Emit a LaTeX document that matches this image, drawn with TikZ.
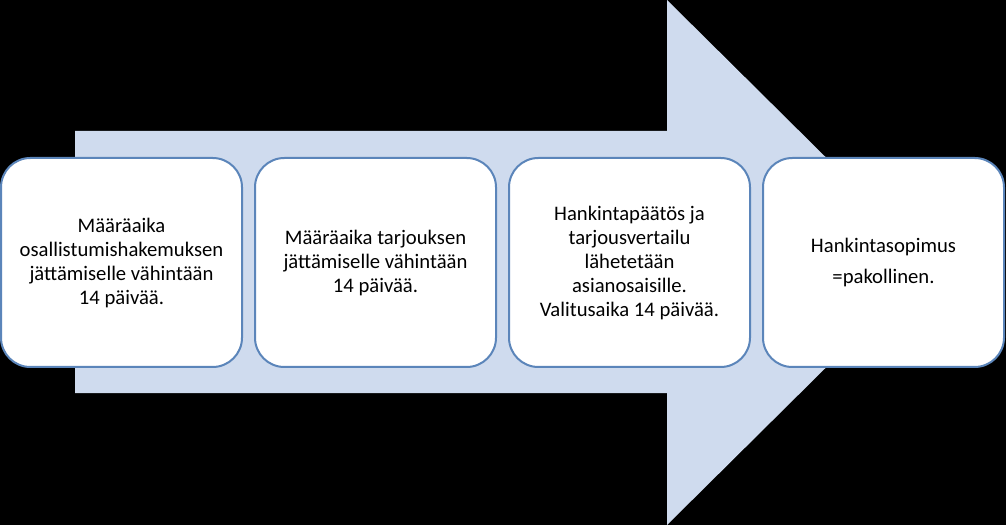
\documentclass[tikz,border=0pt]{standalone}
\usepackage{fontspec}
\setmainfont{Carlito}
\usetikzlibrary{positioning}
\definecolor{nuoli}{RGB}{207,219,238}
\definecolor{reuna}{RGB}{91,133,186}
\def\nuolirunko{(75,132) -- (667,132) -- (667,0) -- (932,262.5) -- (667,525) -- (667,394) -- (75,394) -- cycle}

\begin{document}
\begin{tikzpicture}[x=0.75pt,y=0.75pt,
    vaihe/.style={draw=reuna,line width=1.5pt,fill=white,rounded corners=22pt,
      minimum width=180.75pt,minimum height=156.75pt,align=center,inner sep=0pt,
      font=\fontsize{15.5}{18}\selectfont},
    node distance=8.25pt]
  \fill[black] (0,0) rectangle (1006,525);
  \useasboundingbox (0,0) rectangle (1006,525);
  % iso nuoli taustalla
  \fill[nuoli] \nuolirunko;
  % vaiheet
  \node[vaihe] (maara1) at (121.5,262.5) {M\"a\"ar\"aaika\\osallistumishakemuksen\\j\"att\"amiselle v\"ahint\"a\"an\\14 p\"aiv\"a\"a.};
  \node[vaihe,right=of maara1] (maara2) {M\"a\"ar\"aaika tarjouksen\\j\"att\"amiselle v\"ahint\"a\"an\\14 p\"aiv\"a\"a.};
  \node[vaihe,right=of maara2] (paatos) {Hankintap\"a\"at\"os ja\\tarjousvertailu\\l\"ahetet\"a\"an\\asianosaisille.\\Valitusaika 14 p\"aiv\"a\"a.};
  \node[vaihe,right=of paatos,font=\fontsize{15.5}{23}\selectfont] (sopimus) {Hankintasopimus\\=pakollinen.};
\end{tikzpicture}
\end{document}
